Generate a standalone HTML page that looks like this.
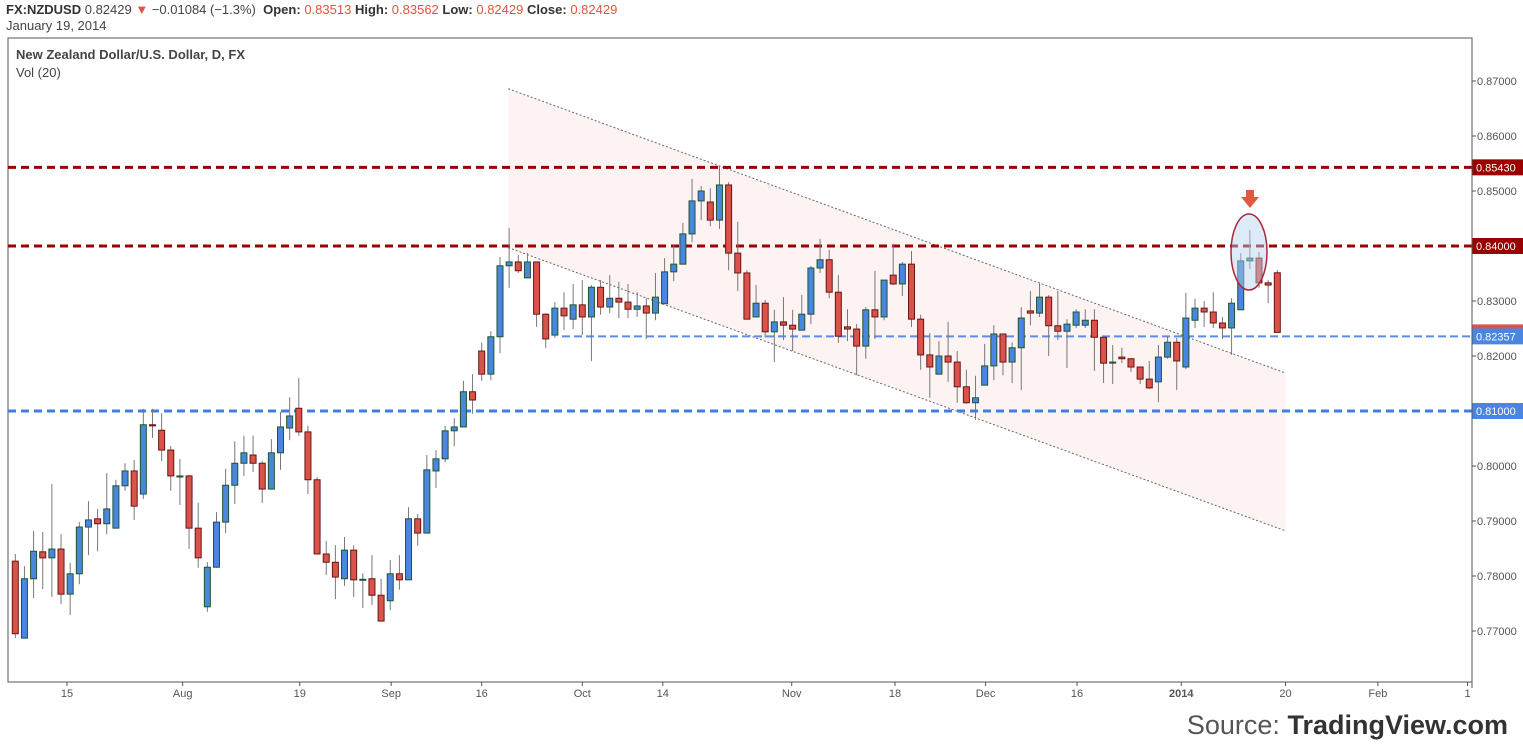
<!DOCTYPE html>
<html><head><meta charset="utf-8">
<style>
body{margin:0;background:#fff;width:1523px;height:752px;overflow:hidden;font-family:"Liberation Sans",sans-serif;}
#hdr{position:absolute;left:6px;top:2px;font-size:13px;color:#444;line-height:16px;}
#hdr b{color:#333}
.r{color:#e0533f}
svg{position:absolute;left:0;top:0}
</style></head><body>
<div id="hdr"><b>FX:NZDUSD</b> 0.82429 <span class="r">▼</span> −0.01084 (−1.3%)&nbsp; <b>Open:</b> <span class="r">0.83513</span> <b>High:</b> <span class="r">0.83562</span> <b>Low:</b> <span class="r">0.82429</span> <b>Close:</b> <span class="r">0.82429</span><br>January 19, 2014</div>
<svg id="chart" width="1523" height="752"></svg>
<script>
const opens=[.7827,.7687,.7795,.7844,.7833,.7849,.7767,.7804,.7889,.7904,.7895,.7887,.7964,.7991,.7949,.8075,.8065,.8029,.7980,.7982,.7887,.7744,.7816,.7898,.7965,.8005,.8020,.8005,.7958,.8024,.8069,.8105,.8062,.7975,.7840,.7825,.7795,.7847,.7793,.7795,.7765,.7755,.7804,.7793,.7904,.7878,.7991,.8013,.8064,.8071,.8135,.8209,.8167,.8235,.8364,.8371,.8342,.8371,.8276,.8238,.8287,.8267,.8293,.8271,.8325,.8289,.8305,.8298,.8285,.8291,.8278,.8295,.8353,.8367,.8422,.8482,.8480,.8447,.8511,.8387,.8351,.8271,.8296,.8244,.8262,.8256,.8247,.8276,.8360,.8375,.8316,.8253,.8249,.8218,.8284,.8271,.8347,.8331,.8367,.8267,.8202,.8167,.8200,.8189,.8144,.8115,.8147,.8182,.8240,.8189,.8215,.8282,.8278,.8307,.8255,.8245,.8256,.8256,.8265,.8234,.8187,.8198,.8195,.8180,.8158,.8153,.8198,.8225,.8180,.8265,.8287,.8280,.8260,.8251,.8284,.8373,.8378,.8333,.83513];
const highs=[.7840,.7818,.7882,.7880,.7967,.7876,.7824,.7898,.7936,.7922,.7987,.7975,.8005,.8011,.8104,.8104,.8096,.8036,.8013,.7984,.7933,.7825,.7916,.7995,.8045,.8055,.8055,.8009,.8049,.8098,.8125,.8160,.8073,.7980,.7864,.7856,.7871,.7856,.7805,.7838,.7795,.7829,.7838,.7925,.7913,.8020,.8029,.8073,.8087,.8155,.8167,.8224,.8245,.8380,.8433,.8384,.8387,.8371,.8278,.8298,.8316,.8331,.8338,.8329,.8338,.8347,.8335,.8331,.8316,.8305,.8351,.8378,.8402,.8442,.8522,.8509,.8505,.8545,.8516,.8444,.8356,.8329,.8302,.8284,.8307,.8284,.8311,.8364,.8413,.8393,.8347,.8285,.8258,.8289,.8355,.8338,.8404,.8371,.8391,.8275,.8242,.8227,.8262,.8209,.8175,.8164,.8222,.8256,.8240,.8225,.8289,.8318,.8333,.8311,.8318,.8267,.8285,.8285,.8285,.8234,.8220,.8215,.8196,.8180,.8191,.8220,.8236,.8233,.8315,.8304,.8300,.8316,.8271,.8305,.8387,.8429,.8389,.8338,.83562];
const lows=[.7687,.7687,.7760,.7776,.7762,.7749,.7729,.7785,.7838,.7845,.7876,.7887,.7955,.7902,.7940,.8051,.8009,.7955,.7929,.7849,.7815,.7735,.7815,.7878,.7931,.7982,.7989,.7933,.7958,.7993,.8047,.8055,.7949,.7840,.7802,.7758,.7782,.7762,.7742,.7747,.7718,.7738,.7775,.7793,.7855,.7878,.7960,.8007,.8036,.8071,.8095,.8155,.8156,.8205,.8324,.8351,.8342,.8253,.8215,.8233,.8247,.8249,.8238,.8191,.8275,.8278,.8269,.8269,.8271,.8231,.8265,.8295,.8336,.8367,.8407,.8447,.8436,.8431,.8356,.8318,.8267,.8271,.8233,.8189,.8229,.8209,.8247,.8258,.8351,.8305,.8224,.8227,.8165,.8195,.8231,.8265,.8329,.8309,.8253,.8175,.8124,.8167,.8153,.8115,.8113,.8084,.8147,.8156,.8165,.8151,.8138,.8256,.8271,.8200,.8229,.8178,.8251,.8251,.8173,.8151,.8149,.8187,.8171,.8149,.8140,.8116,.8195,.8138,.8176,.8251,.8253,.8251,.8231,.8202,.8284,.8358,.8324,.8296,.82429];
const closes=[.7695,.7795,.7845,.7833,.7849,.7767,.7804,.7889,.7902,.7895,.7922,.7964,.7991,.7927,.8075,.8073,.8029,.7982,.7982,.7887,.7833,.7816,.7898,.7965,.8005,.8024,.8005,.7958,.8024,.8071,.8091,.8062,.7975,.7840,.7825,.7798,.7847,.7793,.7794,.7765,.7718,.7804,.7793,.7904,.7878,.7993,.8013,.8064,.8071,.8135,.8120,.8167,.8235,.8364,.8371,.8355,.8371,.8276,.8231,.8287,.8273,.8293,.8271,.8325,.8289,.8305,.8298,.8285,.8291,.8278,.8307,.8353,.8367,.8422,.8482,.8500,.8447,.8511,.8387,.8351,.8267,.8296,.8244,.8262,.8256,.8249,.8276,.8360,.8375,.8316,.8236,.8249,.8218,.8284,.8271,.8338,.8331,.8367,.8267,.8202,.8180,.8200,.8189,.8144,.8115,.8124,.8182,.8240,.8189,.8215,.8269,.8278,.8307,.8255,.8245,.8258,.8280,.8265,.8234,.8187,.8189,.8195,.8180,.8158,.8142,.8198,.8225,.8191,.8269,.8287,.8280,.8260,.8251,.8296,.8373,.8378,.8333,.8329,.82429];
const xTickLabels=["15","Aug","19","Sep","16","Oct","14","Nov","18","Dec","16","2014","20","Feb","1"];
const xTickIdx=[5.65,18.3,31.1,41.1,51,62,70.8,84.9,96.2,106.1,116.1,127.5,138.9,149,158.8];
const yTicks=[0.77,0.78,0.79,0.80,0.81,0.82,0.83,0.84,0.85,0.86,0.87];
const levelPrices=[0.8543,0.84,0.82357,0.81];
const channelUpper=[[53.9,0.8686],[138.9,0.8169]];
const channelLower=[[53.9,0.8397],[138.9,0.7882]];

const NS="http://www.w3.org/2000/svg";
const svg=document.getElementById('chart');
const X0=15.3,DX=9.145,PL=8,PR=1472,PT=38,PB=682;
const xS=i=>X0+DX*i;
const yS=p=>81+(0.87-p)*5500;
function mk(t,a,parent){const e=document.createElementNS(NS,t);for(const k in a)e.setAttribute(k,a[k]);(parent||svg).appendChild(e);return e;}

// frame
let fr=mk('rect',{x:PL,y:PT,width:PR-PL,height:PB-PT,fill:'none',stroke:'#555','stroke-width':1});


// channel fill
const u0=channelUpper[0],u1=channelUpper[1],l0=channelLower[0],l1=channelLower[1];
let ch=mk('polygon',{points:`${xS(u0[0])},${yS(u0[1])} ${xS(u1[0])},${yS(u1[1])} ${xS(l1[0])},${yS(l1[1])} ${xS(l0[0])},${yS(l0[1])}`,fill:'#fdf3f3'});


[[u0,u1,'channel-upper'],[l0,l1,'channel-lower']].forEach(([a,b,n])=>{
  const l=mk('line',{x1:xS(a[0]),y1:yS(a[1]),x2:xS(b[0]),y2:yS(b[1]),stroke:'#666','stroke-width':1,'stroke-dasharray':'2,2'});
  
  
});
// horizontal levels
const lvlCol=['#990000','#990000','#5b8ee8','#3f7fe3'];
const lvlNames=['resistance-08543','resistance-08400','support-08236','support-08100'];
levelPrices.forEach((p,k)=>{
  const l=mk('line',{x1:k==2?562:PL,y1:yS(p),x2:PR,y2:yS(p),stroke:lvlCol[k],'stroke-width':k==2?2:3,'stroke-dasharray':k==2?'8,4':'8,5'});
  
  
});
// candles
for(let i=0;i<opens.length;i++){
  const o=opens[i],c=closes[i],up=c>=o;
  const g=mk('g',{});
  
  
  const x=xS(i);
  mk('line',{x1:x,y1:yS(highs[i]),x2:x,y2:yS(lows[i]),stroke:'#777','stroke-width':1},g);
  const t=yS(Math.max(o,c)),b=yS(Math.min(o,c));
  mk('rect',{x:x-3,y:t,width:6,height:Math.max(b-t,1),fill:up?'#4a86e0':'#d9534a',stroke:up?'#1e5631':'#6b1414','stroke-width':1},g);
}
// ellipse + arrow
let el=mk('ellipse',{cx:1249,cy:252,rx:18,ry:38,fill:'rgba(180,210,240,0.45)',stroke:'#b0243a','stroke-width':1.5});


let ar=mk('path',{d:'M1246,190 h8 v7 h5 l-9,11 l-9,-11 h5 z',fill:'#e05a40'});


// y axis
yTicks.forEach(p=>{
  const y=yS(p);
  mk('line',{x1:PR,y1:y,x2:PR+4,y2:y,stroke:'#555'});
  const t=mk('text',{x:1477,y:y+4,'font-size':11,fill:'#555','font-family':'Liberation Sans, sans-serif'});
  t.textContent=p.toFixed(5);
  
  
});
// level labels
const lblCol=['#990000','#990000','#4a86e0','#4a86e0'];
mk('rect',{x:PR,y:yS(0.82429)-8,width:51,height:6,fill:'#d9534a'});
levelPrices.forEach((p,k)=>{
  const y=yS(p);
  const r=mk('rect',{x:PR,y:y-8,width:51,height:16,fill:lblCol[k]});
  
  
  const t=mk('text',{x:1476,y:y+4,'font-size':11,fill:'#fff','font-family':'Liberation Sans, sans-serif'});
  t.textContent=p.toFixed(5);
  
  
});
// x axis
xTickIdx.forEach((ix,k)=>{
  const x=xS(ix);
  mk('line',{x1:x,y1:PB,x2:x,y2:PB+4,stroke:'#555'});
  const t=mk('text',{x:x,y:697,'font-size':11,fill:'#555','text-anchor':'middle','font-weight':xTickLabels[k]=='2014'?'bold':'normal','font-family':'Liberation Sans, sans-serif'});
  t.textContent=xTickLabels[k];
  
  
});
mk('line',{x1:PR,y1:PT,x2:PR,y2:PB+6,stroke:'#555'});
// titles
let t1=mk('text',{x:16,y:59,'font-size':13,fill:'#444','font-weight':'bold','font-family':'Liberation Sans, sans-serif'});
t1.textContent='New Zealand Dollar/U.S. Dollar, D, FX';


let t2=mk('text',{x:16,y:77,'font-size':13,fill:'#444','font-family':'Liberation Sans, sans-serif'});
t2.textContent='Vol (20)';


let s=mk('text',{x:1508,y:734,'font-size':27,'text-anchor':'end','font-family':'Liberation Sans, sans-serif',fill:'#555'});
s.innerHTML='Source: <tspan fill="#333" font-weight="bold">TradingView.com</tspan>';


</script>
</body></html>
